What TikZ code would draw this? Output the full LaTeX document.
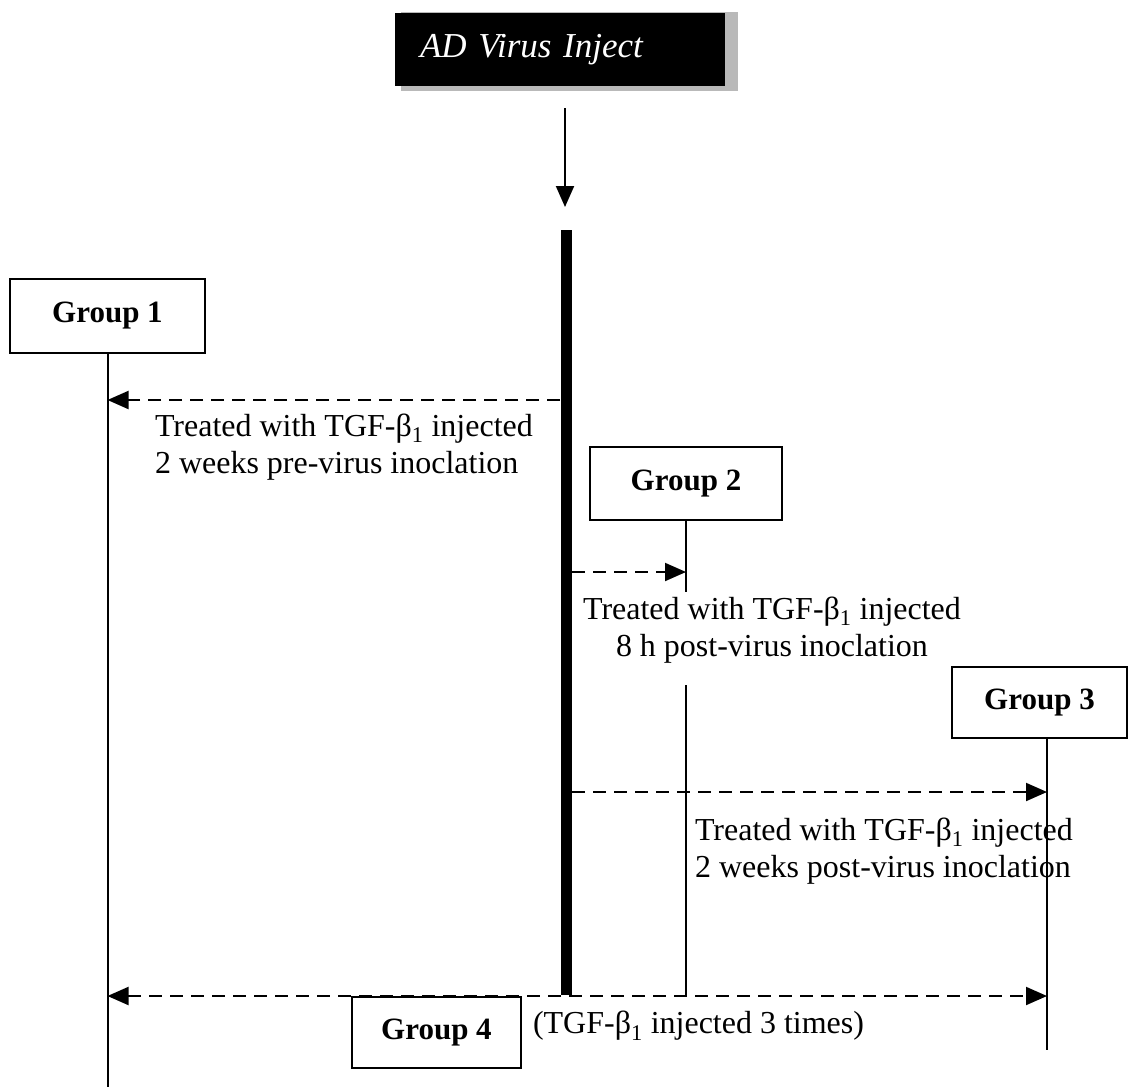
\documentclass[tikz,border=0pt]{standalone}
\usepackage{fontspec}
\setmainfont{Liberation Serif}
\usetikzlibrary{arrows.meta,calc}
\tikzset{>={Triangle[length=21pt,width=18pt]}}
\tikzset{
  group/.style={draw,line width=2pt,fill=white,
    font=\fontsize{31}{37}\selectfont\bfseries,inner sep=0pt},
  treat/.style={dash pattern=on 13pt off 8pt,line width=2pt},
  txt/.style={inner sep=0pt},
}

\begin{document}
\begin{tikzpicture}[x=1pt,y=-1pt,line width=2pt,font=\fontsize{32}{37}\selectfont]
  \useasboundingbox (0,0) rectangle (1130,1087);
  % virus injection with its shadow
  \fill[gray!55] (401,12) rectangle (738,91);
  \node[fill=black,text=white,font=\fontsize{35}{40}\selectfont\itshape,
        minimum height=73pt,text width=280pt,inner xsep=25pt,inner ysep=0pt,
        align=left] (ad) at (560,49.5) {AD Virus Inject};
  \coordinate (adfoot) at (565,108); % start of arrow
  \coordinate (adtip) at (565,207);  % tip of arrow
  \draw[->] (adfoot) -- (adtip);
  % time of injection
  \coordinate (bartop) at (566,230);
  \coordinate (barbot) at (566,995);
  \draw[line width=11pt] (bartop) -- (barbot);
  % groups
  \node[group,minimum width=195pt,minimum height=74pt] (g1) at (107.5,316) {Group 1};
  \node[group,minimum width=192pt,minimum height=73pt] (g2) at (686,483.5) {Group 2};
  \node[group,minimum width=175pt,minimum height=71pt] (g3) at (1039.5,702.5) {Group 3};
  % group lines
  \coordinate (g1end) at (107.5,1087);
  \draw (g1.south) -- (g1end);
  \coordinate (g2cut) at (686,592); % line stops for the text
  \coordinate (g2res) at (686,685);
  \coordinate (g2end) at (686,995);
  \draw (g2.south) -- (g2cut);
  \draw (g2res) -- (g2end);
  \coordinate (g3end) at (1047,1050);
  \draw (g3.south -| g3end) -- (g3end);
  % treatments
  \coordinate (t1) at (560,400);
  \draw[treat,->] (t1) -- (t1 -| g1.south);
  \coordinate (t2) at (572,572);
  \draw[treat,->] (t2) -- (t2 -| g2.south);
  \coordinate (t3) at (572,792);
  \draw[treat,->] (t3) -- (t3 -| g3end);
  \coordinate (t4) at (566,996);
  \draw[treat,<->] (t4 -| g1.south) -- (t4 -| g3end);
  \node[group,minimum width=169pt,minimum height=71pt] (g4) at (436.5,1032.5) {Group 4};
  % texts
  \node[txt,anchor=west,align=left] (l1) at (154,447)
    {Treated with TGF-β\textsubscript{1} injected\\2 weeks pre-virus inoclation};
  \node[txt,align=center] (l2) at (772,630)
    {Treated with TGF-β\textsubscript{1} injected\\8 h post-virus inoclation};
  \node[txt,anchor=west,align=left] (l3) at (694,851)
    {Treated with TGF-β\textsubscript{1} injected\\2 weeks post-virus inoclation};
  \node[txt,anchor=west] (l4) at (532,1026) {(TGF-β\textsubscript{1} injected 3 times)};
\end{tikzpicture}
\end{document}
